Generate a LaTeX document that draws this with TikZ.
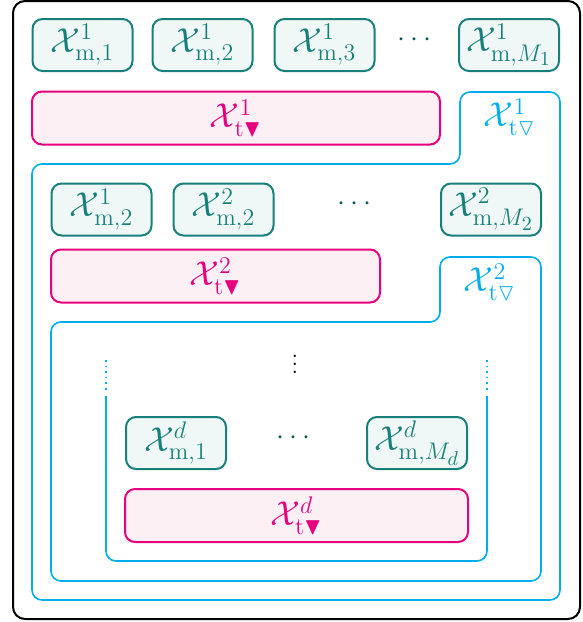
\documentclass[tikz,border=0pt]{standalone}
\usepackage{amsmath}
\usepackage{amssymb}
\usepackage{tikz}
\usetikzlibrary{shapes, arrows.meta, positioning}
\definecolor{mteal}{HTML}{17807B}
\definecolor{mtealfill}{HTML}{EFF8F7}
\definecolor{tpink}{HTML}{E6007E}
\definecolor{tpinkfill}{HTML}{FCF0F5}
\definecolor{tblue}{HTML}{00AEEF}
\tikzstyle{mblock} = [draw=mteal, fill=mtealfill, text=mteal, rectangle, rounded corners=5pt, line width=1pt, minimum width=50pt, minimum height=26pt, inner sep=0pt]
\tikzstyle{tblock} = [draw=tpink, fill=tpinkfill, text=tpink, rectangle, rounded corners=5pt, line width=1pt, minimum height=26.5pt, inner sep=0pt]
\tikzstyle{region} = [draw=tblue, line width=0.8pt, rounded corners=5pt]
\tikzstyle{gap} = [text=mteal!70!black, font=\Large]
\newcommand{\Xc}{\mathcal{X}}
\newcommand{\Xm}[2]{\ensuremath{\Xc^{#1}_{\mathrm{m},#2}}}
\newcommand{\Xt}[1]{\ensuremath{\Xc^{#1}_{\mathrm{t}\blacktriangledown}}}
\newcommand{\Xo}[1]{\ensuremath{\Xc^{#1}_{\mathrm{t}\triangledown}}}

\begin{document}
\begin{tikzpicture}[x=0.5pt, y=-0.5pt, font=\LARGE]
    \useasboundingbox (0,0) rectangle (583,622);
    \draw [line width=1pt, rounded corners=6pt] (13,1) rectangle (580,619);
    % level 1
    \node [mblock] (m11) at (82.5,45) {\Xm{1}{1}};
    \node [mblock, right of=m11, node distance=60pt] (m12) {\Xm{1}{2}};
    \node [mblock, right of=m12, node distance=61pt] (m13) {\Xm{1}{3}};
    \node [mblock] (m1M) at (509,45) {\Xm{1}{M_1}};
    \node [gap] (dots1) at (417,40) {$\cdots$};
    \node [tblock, minimum width=204pt] (t1) at (236,118) {\Xt{1}};
    \draw [region] (32,164) -- (460,164) -- (460,92) -- (560,92) -- (560,600) -- (32,600) -- cycle;
    \node [text=tblue] (o1) at (510,117) {\Xo{1}};
    % level 2
    \node [mblock] (m21) at (101.5,209.5) {\Xm{1}{2}};
    \node [mblock, right of=m21, node distance=61pt] (m22) {\Xm{2}{2}};
    \node [mblock] (m2M) at (491,209.5) {\Xm{2}{M_2}};
    \node [gap] (dots2) at (357,204) {$\cdots$};
    \node [tblock, minimum width=164.5pt] (t2) at (215.5,276) {\Xt{2}};
    \draw [region] (51,322) -- (440,322) -- (440,257) -- (541,257) -- (541,581) -- (51,581) -- cycle;
    \node [text=tblue] (o2) at (490,282) {\Xo{2}};
    % level d
    \node [font=\large] (vdots) at (295,358) {$\vdots$};
    \draw [region] (106,396) -- (106,561) -- (487,561) -- (487,396);
    \draw [region, dotted] (106,360) -- (106,392);
    \draw [region, dotted] (487,360) -- (487,392);
    \node [mblock] (md1) at (176,443) {\Xm{d}{1}};
    \node [mblock] (mdM) at (417,443) {\Xm{d}{M_d}};
    \node [gap] (dotsd) at (296,438) {$\cdots$};
    \node [tblock, minimum width=171.5pt] (td) at (296.5,515.5) {\Xt{d}};
\end{tikzpicture}
\end{document}
